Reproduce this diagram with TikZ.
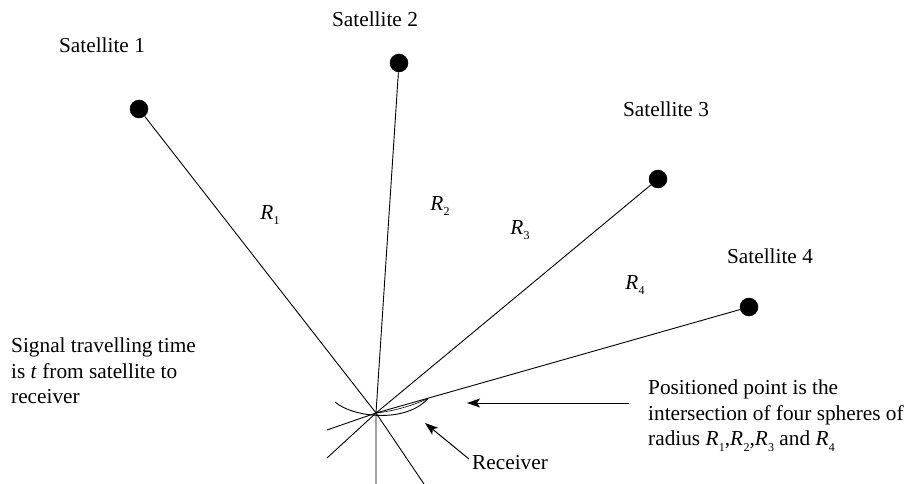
\documentclass[tikz,border=0pt]{standalone}
\usepackage{fontspec}
\setmainfont{Liberation Serif}
\usetikzlibrary{arrows.meta}
\newcommand\Rsub[1]{\textit{R}\kern0.3pt\raisebox{-5.5pt}{\fontsize{12}{12}\selectfont #1}}
\begin{document}
\begin{tikzpicture}[x=1pt,y=-1pt,
  sat/.style={circle, fill=black, minimum size=18.5pt, inner sep=0pt},
  lbl/.style={font=\fontsize{21.3}{25.5}\selectfont, inner sep=0pt},
  ray/.style={line width=0.9pt},
  pointer/.style={line width=1pt, -{Stealth[length=13pt,width=9pt,inset=3pt]}}]
\useasboundingbox (0,0) rectangle (911,484);
% satellites
\node[sat] (s1) at (139,109) {};
\node[sat] (s2) at (399,63) {};
\node[sat] (s3) at (658,179) {};
\node[sat] (s4) at (749,307) {};
\coordinate (rx) at (376,413);
% extensions below the receiver
\coordinate (e1) at (424,484);
\coordinate (e2) at (376,484);
\coordinate (e3) at (327,458);
\coordinate (e4) at (327,430);
\draw[ray] (s1) -- (rx) -- (e1);
\draw[ray] (s2) -- (rx) -- (e2);
\draw[ray] (s3) -- (rx) -- (e3);
\draw[ray] (s4) -- (rx) -- (e4);
% arcs at the receiver
\coordinate (a1) at (335,402);
\coordinate (a2) at (428,398.5);
\draw[ray] (a1) .. controls (352,417) and (405,424) .. (a2);
\draw[line width=0.6pt] (rx) .. controls (395,411) and (414,405) .. (a2);
% satellite labels
\node[lbl] (l1) at (102,45) {Satellite 1};
\node[lbl] (l2) at (375,19) {Satellite 2};
\node[lbl] (l3) at (666,109) {Satellite 3};
\node[lbl] (l4) at (770,256) {Satellite 4};
% range labels
\node[lbl] (r1) at (270,215) {\Rsub{1}};
\node[lbl] (r2) at (440,206) {\Rsub{2}};
\node[lbl] (r3) at (520,230) {\Rsub{3}};
\node[lbl] (r4) at (635,285) {\Rsub{4}};
% texts
\node[lbl, anchor=north west, align=left] (sig) at (11,338)
  {Signal travelling time\\is \textit{t} from satellite to\\receiver};
\node[lbl, anchor=north west, align=left] (pos) at (648,380)
  {Positioned point is the\\intersection of four spheres of\\radius \Rsub{1},\Rsub{2},\Rsub{3} and \Rsub{4}};
\node[lbl, anchor=west] (rl) at (472,463) {Receiver};
% pointers
\coordinate (pt) at (629,403);
\coordinate (ph) at (467,403);
\draw[pointer] (pt) -- (ph);
\coordinate (rt) at (469,459);
\coordinate (rh) at (425,423);
\draw[pointer] (rt) -- (rh);
\end{tikzpicture}
\end{document}
